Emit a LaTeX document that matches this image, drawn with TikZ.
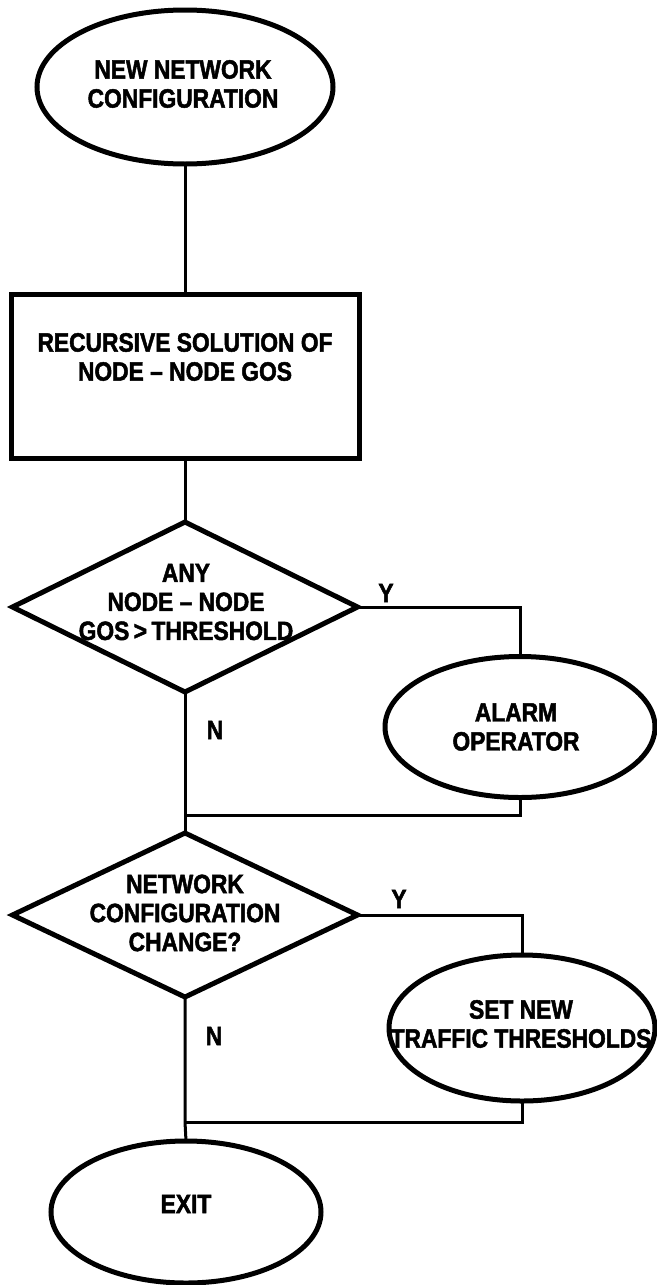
\documentclass[tikz,border=0pt]{standalone}
\usepackage{fontspec}
\newfontfamily\lblfont{Liberation Sans}[UprightFont={* Bold},FakeStretch=0.86,FakeBold=1.8]
\usetikzlibrary{shapes.geometric}
\begin{document}
\begin{tikzpicture}[x=1pt,y=-1pt,
  shp/.style={draw=black, line width=5pt, inner sep=0pt, outer sep=0pt},
  oval/.style={shp, ellipse},
  box/.style={shp, rectangle},
  dec/.style={shp, diamond},
  conn/.style={draw=black, line width=3pt},
  lbl/.style={font=\lblfont\fontsize{26.5}{29}\selectfont, align=center, inner sep=0pt},
]
\useasboundingbox (0,0) rectangle (656,1285);
% shapes
\node[oval, minimum width=296pt, minimum height=154pt] (e1) at (185,87) {};
\node[box, minimum width=348pt, minimum height=164pt] (r) at (185,376) {};
\node[dec, minimum width=345pt, minimum height=170pt] (d1) at (185,607) {};
\node[oval, minimum width=270pt, minimum height=141pt] (a) at (520,727) {};
\node[dec, minimum width=345pt, minimum height=164pt] (d2) at (185,915) {};
\node[oval, minimum width=266pt, minimum height=146pt] (s) at (522,1028) {};
\node[oval, minimum width=270pt, minimum height=142pt] (x) at (186,1212) {};
% texts
\node[lbl] (te1) at (183,84) {NEW NETWORK\\CONFIGURATION};
\node[lbl] (tr) at (185,357) {RECURSIVE SOLUTION OF\\NODE – NODE GOS};
\node[lbl] (td1) at (186,602) {ANY\\NODE – NODE\\GOS\,>\,THRESHOLD};
\node[lbl] (ta) at (516,727) {ALARM\\OPERATOR};
\node[lbl] (td2) at (185,913) {NETWORK\\CONFIGURATION\\CHANGE?};
\node[lbl] (ts) at (521,1024) {SET NEW\\TRAFFIC THRESHOLDS};
\node[lbl] (tx) at (186,1204) {EXIT};
% branch labels
\node[lbl] (y1) at (386,593) {Y};
\node[lbl] (n1) at (215,730) {N};
\node[lbl] (y2) at (399,899) {Y};
\node[lbl] (n2) at (214,1036) {N};
% junctions
\coordinate (j1) at (185,815);
\coordinate (j2) at (185,1122);
% connectors
\draw[conn] (e1.south) -- (r.north);
\draw[conn] (r.south) -- (d1.north);
\draw[conn] (d1.east) -| (a.north);
\draw[conn] (d1.south) -- (j1) -- (d2.north);
\draw[conn] (a.south) |- (j1);
\draw[conn] (d2.east) -| (s.north);
\draw[conn] (d2.south) -- (j2) -- (x.north);
\draw[conn] (s.south) |- (j2);
\end{tikzpicture}
\end{document}
